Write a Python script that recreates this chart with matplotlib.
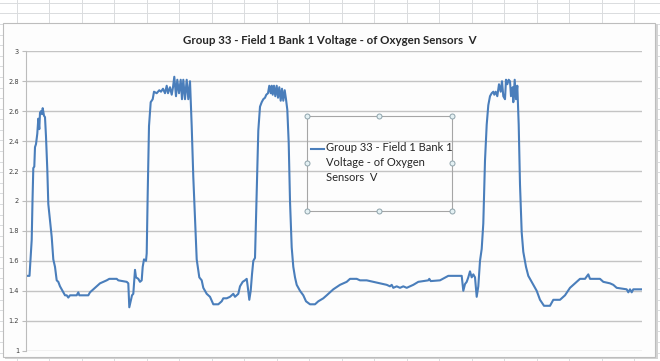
# Excel-style line chart: oxygen sensor voltage (Group 33, Field 1 Bank 1)

import matplotlib
matplotlib.use("Agg")
import matplotlib.pyplot as plt
from matplotlib.lines import Line2D
from matplotlib.patches import Rectangle

# sample position along the log and voltage
sample = [0, 3.5, 5.7, 6.5, 7.3, 8.3, 9, 10, 11.3, 12.3, 13.3, 14, 15, 16, 16.7, 18, 19, 20,
          21.3, 22.3, 24, 25.7, 27.3, 29, 30.7, 32.3, 34, 35.7, 37.3, 39, 40.7, 42.3, 44,
          50.7, 52.3, 53.3, 62.3, 64, 67.3, 70.7, 74, 77.3, 80.7, 83.3, 90.7, 92.3, 100.7,
          102.3, 103.3, 104.7, 106, 107.3, 109, 110, 112.3, 114, 115.7, 116.7, 118, 120,
          120.7, 121.7, 123, 124.7, 126.7, 128, 130.7, 133.3, 135, 137, 139, 140.7, 142,
          144, 145.7, 147, 148.3, 150, 151.3, 153, 154.7, 156, 157.3, 159, 160.7, 162.3,
          164, 165.7, 167.3, 169, 170.7, 173.3, 175.7, 177.3, 180.7, 184, 187.3, 192.3,
          195.7, 197.3, 200.7, 204, 207.3, 209, 210.7, 212.3, 214, 216.7, 219, 220.7,
          221.7, 223.3, 224.7, 226, 227.3, 229, 230.7, 232.3, 234, 235.7, 237.3, 239, 240.3,
          242, 243.3, 244.7, 245.7, 246.7, 248, 249.3, 250.7, 252, 253.3, 254.7, 256, 257.3,
          258.7, 260, 261.3, 262.7, 264, 265.7, 267.3, 269, 270.7, 274, 277.3, 280, 284,
          289, 292.3, 297.3, 300.7, 307.3, 314, 320.7, 324, 330.7, 334, 340.7, 347.3, 354,
          360.7, 364, 365.7, 367.3, 370.7, 374, 377.3, 380.7, 387.3, 392.3, 402.3, 403.3,
          404.7, 414, 422.3, 435.7, 437.3, 439, 440.7, 442.3, 444, 445.7, 447.3, 449, 450.7,
          452.3, 454, 455.7, 457.3, 459, 460.7, 462.3, 464, 465.7, 467.3, 468.3, 469.7,
          471.3, 473, 474.7, 476, 477.3, 479, 480, 481.3, 482.7, 484, 485, 486.7, 487.3,
          488.7, 490, 491.3, 492.7, 494, 495.7, 497.3, 500, 502.3, 507.3, 510.7, 514, 518,
          524, 527.3, 534, 539, 544, 550.7, 554, 559, 562.3, 564, 574, 577.3, 584, 587.3,
          590.7, 600.7, 602.3, 604, 605.7, 607.3, 615.7]
voltage = [1.50, 1.50, 1.74, 2.00, 2.22, 2.23, 2.36, 2.38, 2.45, 2.55, 2.48, 2.59, 2.60,
           2.58, 2.62, 2.57, 2.56, 2.43, 2.21, 1.98, 1.87, 1.76, 1.61, 1.56, 1.47, 1.46,
           1.43, 1.41, 1.39, 1.37, 1.37, 1.355, 1.37, 1.37, 1.39, 1.37, 1.37, 1.39, 1.41,
           1.43, 1.45, 1.46, 1.47, 1.48, 1.48, 1.47, 1.46, 1.45, 1.29, 1.33, 1.37, 1.38,
           1.54, 1.49, 1.48, 1.46, 1.47, 1.56, 1.61, 1.60, 1.65, 2.05, 2.50, 2.66, 2.68,
           2.73, 2.72, 2.74, 2.73, 2.75, 2.72, 2.77, 2.72, 2.76, 2.71, 2.76, 2.83, 2.70,
           2.81, 2.72, 2.81, 2.68, 2.81, 2.68, 2.81, 2.68, 2.80, 2.50, 2.16, 1.89, 1.61,
           1.49, 1.47, 1.42, 1.38, 1.36, 1.31, 1.31, 1.33, 1.35, 1.35, 1.36, 1.38, 1.36,
           1.37, 1.38, 1.43, 1.46, 1.47, 1.48, 1.43, 1.34, 1.40, 1.51, 1.60, 1.62, 2.05,
           2.47, 2.63, 2.66, 2.68, 2.69, 2.71, 2.72, 2.77, 2.72, 2.77, 2.71, 2.77, 2.70,
           2.77, 2.69, 2.76, 2.67, 2.75, 2.67, 2.74, 2.68, 2.61, 2.39, 2.00, 1.69, 1.56,
           1.49, 1.44, 1.40, 1.37, 1.33, 1.31, 1.31, 1.33, 1.35, 1.37, 1.41, 1.44, 1.46,
           1.48, 1.48, 1.47, 1.47, 1.46, 1.45, 1.44, 1.43, 1.44, 1.42, 1.43, 1.42, 1.43,
           1.42, 1.44, 1.46, 1.47, 1.48, 1.465, 1.47, 1.50, 1.50, 1.40, 1.445, 1.46, 1.49,
           1.53, 1.49, 1.51, 1.49, 1.36, 1.43, 1.60, 1.68, 1.85, 2.27, 2.51, 2.64, 2.70,
           2.72, 2.73, 2.71, 2.73, 2.70, 2.78, 2.73, 2.80, 2.70, 2.68, 2.81, 2.78, 2.81,
           2.80, 2.70, 2.76, 2.66, 2.81, 2.68, 2.77, 2.51, 2.11, 1.79, 1.66, 1.56, 1.50,
           1.44, 1.40, 1.34, 1.30, 1.30, 1.34, 1.34, 1.37, 1.42, 1.46, 1.48, 1.48, 1.51,
           1.48, 1.48, 1.46, 1.45, 1.44, 1.42, 1.41, 1.39, 1.41, 1.39, 1.41, 1.41]

y_ticks = [1, 1.2, 1.4, 1.6, 1.8, 2, 2.2, 2.4, 2.6, 2.8, 3]
y_labels = ["1", "1.2", "1.4", "1.6", "1.8", "2", "2.2", "2.4", "2.6", "2.8", "3"]

title = "Group 33 - Field 1 Bank 1 Voltage - of Oxygen Sensors  V"
legend_label = "Group 33 - Field 1 Bank 1\nVoltage - of Oxygen\nSensors  V"

W, H = 660, 361
line_color = "#4a7ebb"
font = ["Lato", "DejaVu Sans"]


def fx(x):
    return x / W


def fy(y):
    return 1 - y / H


fig = plt.figure(figsize=(6.6, 3.61), dpi=100)
fig.patch.set_facecolor("white")

# spreadsheet cells behind the chart
for k in range(21):
    x = 16.8 + 32.5 * k
    fig.add_artist(Line2D([fx(x), fx(x)], [0, 1], color="#dadcde", lw=0.7, zorder=-5))
y = 2.7
while y < H:
    fig.add_artist(Line2D([0, 1], [fy(y), fy(y)], color="#dadcde", lw=0.7, zorder=-5))
    y += 10.6

# chart area with a light shadow
fig.add_artist(Rectangle((fx(4.5), fy(359)), fx(653), 1 - fy(335), transform=fig.transFigure,
                         facecolor="#d4d4d4", edgecolor="none", zorder=-4))
fig.add_artist(Rectangle((fx(3), fy(357)), fx(652), 1 - fy(334), transform=fig.transFigure,
                         facecolor="#fdfdfd", edgecolor="#bdbdbd", lw=0.8, zorder=-3))

ax = fig.add_axes([fx(26), fy(350.7), fx(616), 1 - fy(299.4)])
ax.set_facecolor("none")
ax.plot(sample, voltage, color=line_color, lw=1.5, solid_joinstyle="round")

ax.set_xlim(0, 616)
ax.set_ylim(1, 3)
ax.set_yticks(y_ticks)
ax.set_yticklabels(y_labels, fontsize=4.8, color="#404040", family="DejaVu Sans")
ax.set_xticks([])
ax.grid(axis="y", color="#c4c4c4", lw=1)
ax.set_axisbelow(True)
ax.tick_params(axis="y", length=3, width=0.8, color="#bcbcbc", pad=2)
for s in ["top", "right", "bottom"]:
    ax.spines[s].set_visible(False)
ax.spines["left"].set_color("#bcbcbc")
ax.spines["left"].set_linewidth(0.8)

fig.text(fx(330), fy(40), title, ha="center", va="center", fontsize=8.3,
         fontweight="bold", color="#262626", family=font)

# selected legend box with its sizing handles
x0, x1, y0, y1 = 306.7, 451.7, 115.7, 210.7
fig.add_artist(Rectangle((fx(x0), fy(y1)), fx(x1 - x0), 1 - fy(y1 - y0), transform=fig.transFigure,
                         facecolor="none", edgecolor="#a6a6a6", lw=0.8, zorder=3))
xm, ym = (x0 + x1) / 2, (y0 + y1) / 2
for hx, hy in [(x0, y0), (xm, y0), (x1, y0), (x0, ym), (x1, ym), (x0, y1), (xm, y1), (x1, y1)]:
    fig.add_artist(Line2D([fx(hx)], [fy(hy)], marker="o", markersize=3.6, markerfacecolor="#e4f1f4",
                          markeredgecolor="#8fa3ab", markeredgewidth=0.7, zorder=4))
fig.add_artist(Line2D([fx(311), fx(324)], [fy(149.3), fy(149.3)], color=line_color, lw=1.5, zorder=4))
fig.text(fx(326), fy(142), legend_label, ha="left", va="top", fontsize=8, color="#262626",
         family=font, linespacing=1.45)

fig.savefig("out.png", dpi=100)
